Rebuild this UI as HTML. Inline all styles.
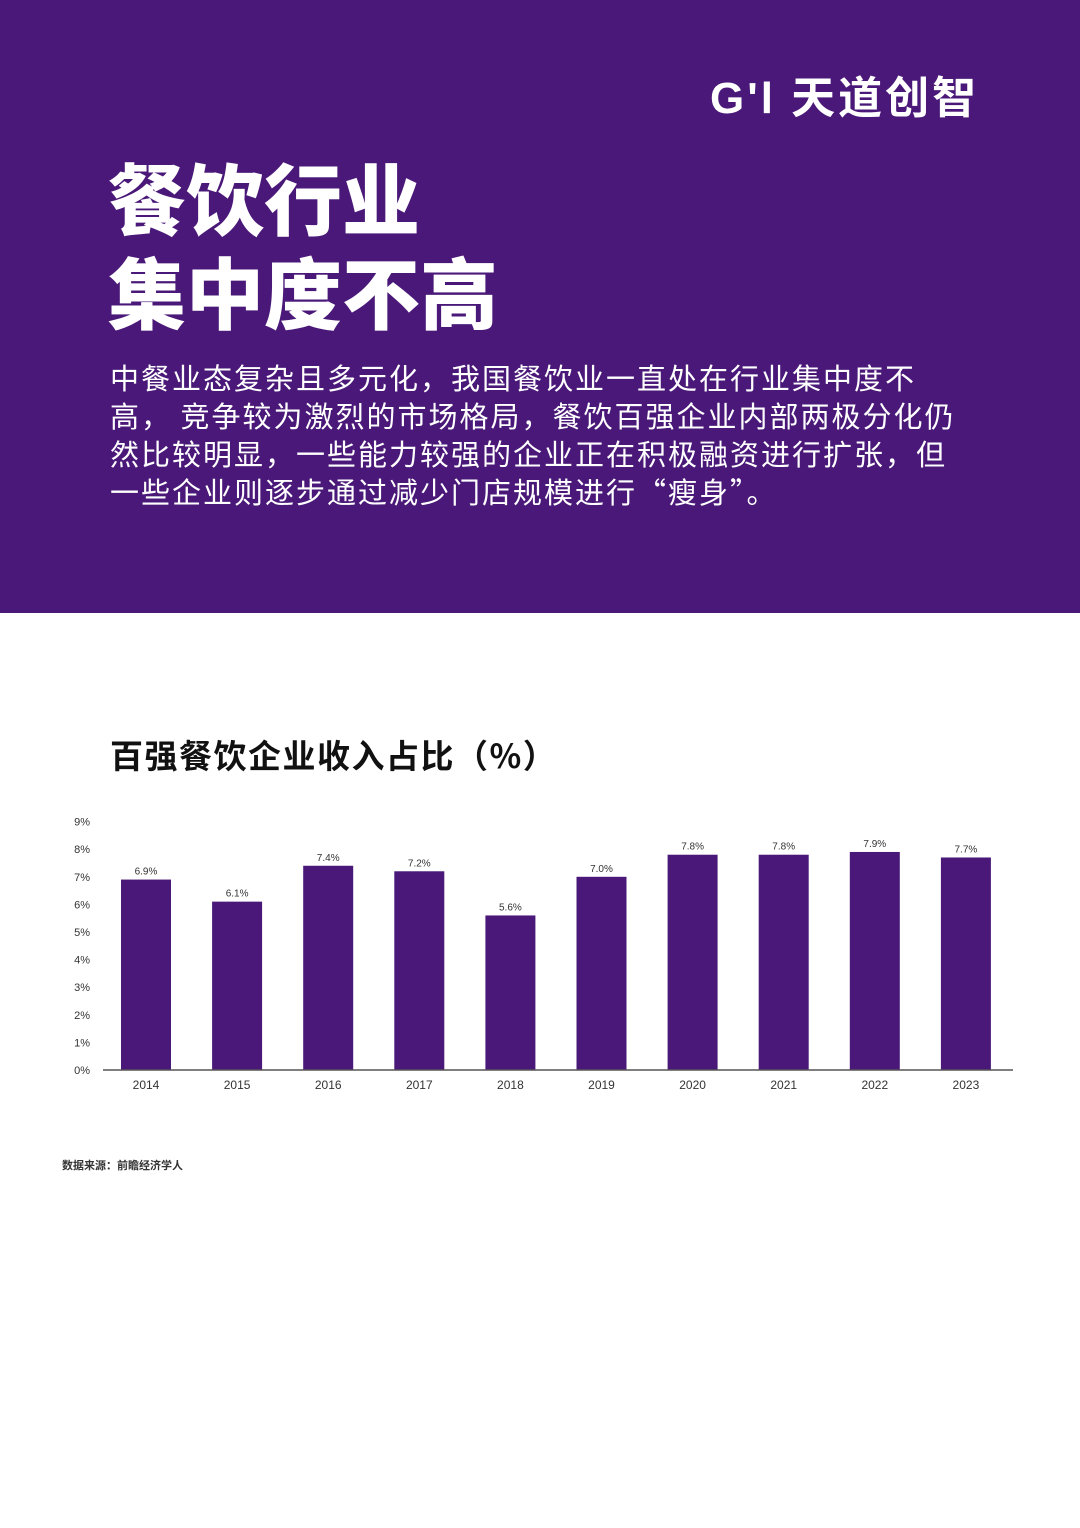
<!DOCTYPE html>
<html><head><meta charset="utf-8">
<style>
body{margin:0;width:1080px;height:1528px;background:#fff;position:relative;overflow:hidden;font-family:"Liberation Sans","Noto Sans CJK SC",sans-serif}
.hdr{position:absolute;left:0;top:0;width:1080px;height:613px;background:#4a1878}
.logo{position:absolute;left:710px;top:62px;color:#fff;font-size:44px;font-weight:bold;letter-spacing:3px;white-space:nowrap}
.title{position:absolute;left:108px;top:149px;color:#fff;font-size:78px;font-weight:900;line-height:94px;font-family:"Noto Sans CJK SC",sans-serif}
.desc{position:absolute;left:110px;top:358px;width:900px;color:#fff;font-size:29px;letter-spacing:2px;line-height:38px;font-family:"Noto Sans CJK SC",sans-serif;white-space:nowrap}
.ct{position:absolute;left:110px;top:730px;font-size:33px;font-weight:bold;color:#111;letter-spacing:1.5px;font-family:"Noto Sans CJK SC",sans-serif}
.src{position:absolute;left:62px;top:1157px;font-size:11px;font-weight:bold;color:#333;font-family:"Noto Sans CJK SC",sans-serif}
svg{position:absolute;left:0;top:0}
</style></head><body>
<div class="hdr"></div>
<div class="logo">G'l 天道创智</div>
<div class="title">餐饮行业<br>集中度不高</div>
<div class="desc">中餐业态复杂且多元化，我国餐饮业一直处在行业集中度不<br>高， 竞争较为激烈的市场格局，餐饮百强企业内部两极分化仍<br>然比较明显，一些能力较强的企业正在积极融资进行扩张，但<br>一些企业则逐步通过减少门店规模进行“瘦身”。</div>
<div class="ct">百强餐饮企业收入占比（%）</div>
<svg id="chart" width="1080" height="1528"></svg>
<div class="src">数据来源：前瞻经济学人</div>
<script>
const years=["2014","2015","2016","2017","2018","2019","2020","2021","2022","2023"];
const values=[6.9,6.1,7.4,7.2,5.6,7.0,7.8,7.8,7.9,7.7];
const valueLabels=["6.9%","6.1%","7.4%","7.2%","5.6%","7.0%","7.8%","7.8%","7.9%","7.7%"];
const yTicks=[0,1,2,3,4,5,6,7,8,9];
const svg=document.getElementById('chart');
const NS='http://www.w3.org/2000/svg';
const y0=1070,pxPer=27.6,x0=146,step=91.1,bw=50;
const ys=v=>y0-v*pxPer, xs=i=>x0+i*step;
function mk(t,a){const e=document.createElementNS(NS,t);for(const k in a)e.setAttribute(k,a[k]);svg.appendChild(e);return e;}
yTicks.forEach(t=>{const e=mk('text',{x:90,y:ys(t)+4,'text-anchor':'end','font-size':11,fill:'#333','font-family':'Liberation Sans'});e.textContent=t+'%';

});
values.forEach((v,i)=>{
const r=mk('rect',{x:xs(i)-bw/2,y:ys(v),width:bw,height:v*pxPer,fill:'#4a1878'});


const l=mk('text',{x:xs(i),y:ys(v)-5,'text-anchor':'middle','font-size':10,fill:'#333','font-family':'Liberation Sans'});l.textContent=valueLabels[i];


const x=mk('text',{x:xs(i),y:y0+19,'text-anchor':'middle','font-size':12,fill:'#333','font-family':'Liberation Sans'});x.textContent=years[i];


});
const ax=mk('line',{x1:103,x2:1013,y1:y0,y2:y0,stroke:'#555','stroke-width':1.5});


</script>
</body></html>
